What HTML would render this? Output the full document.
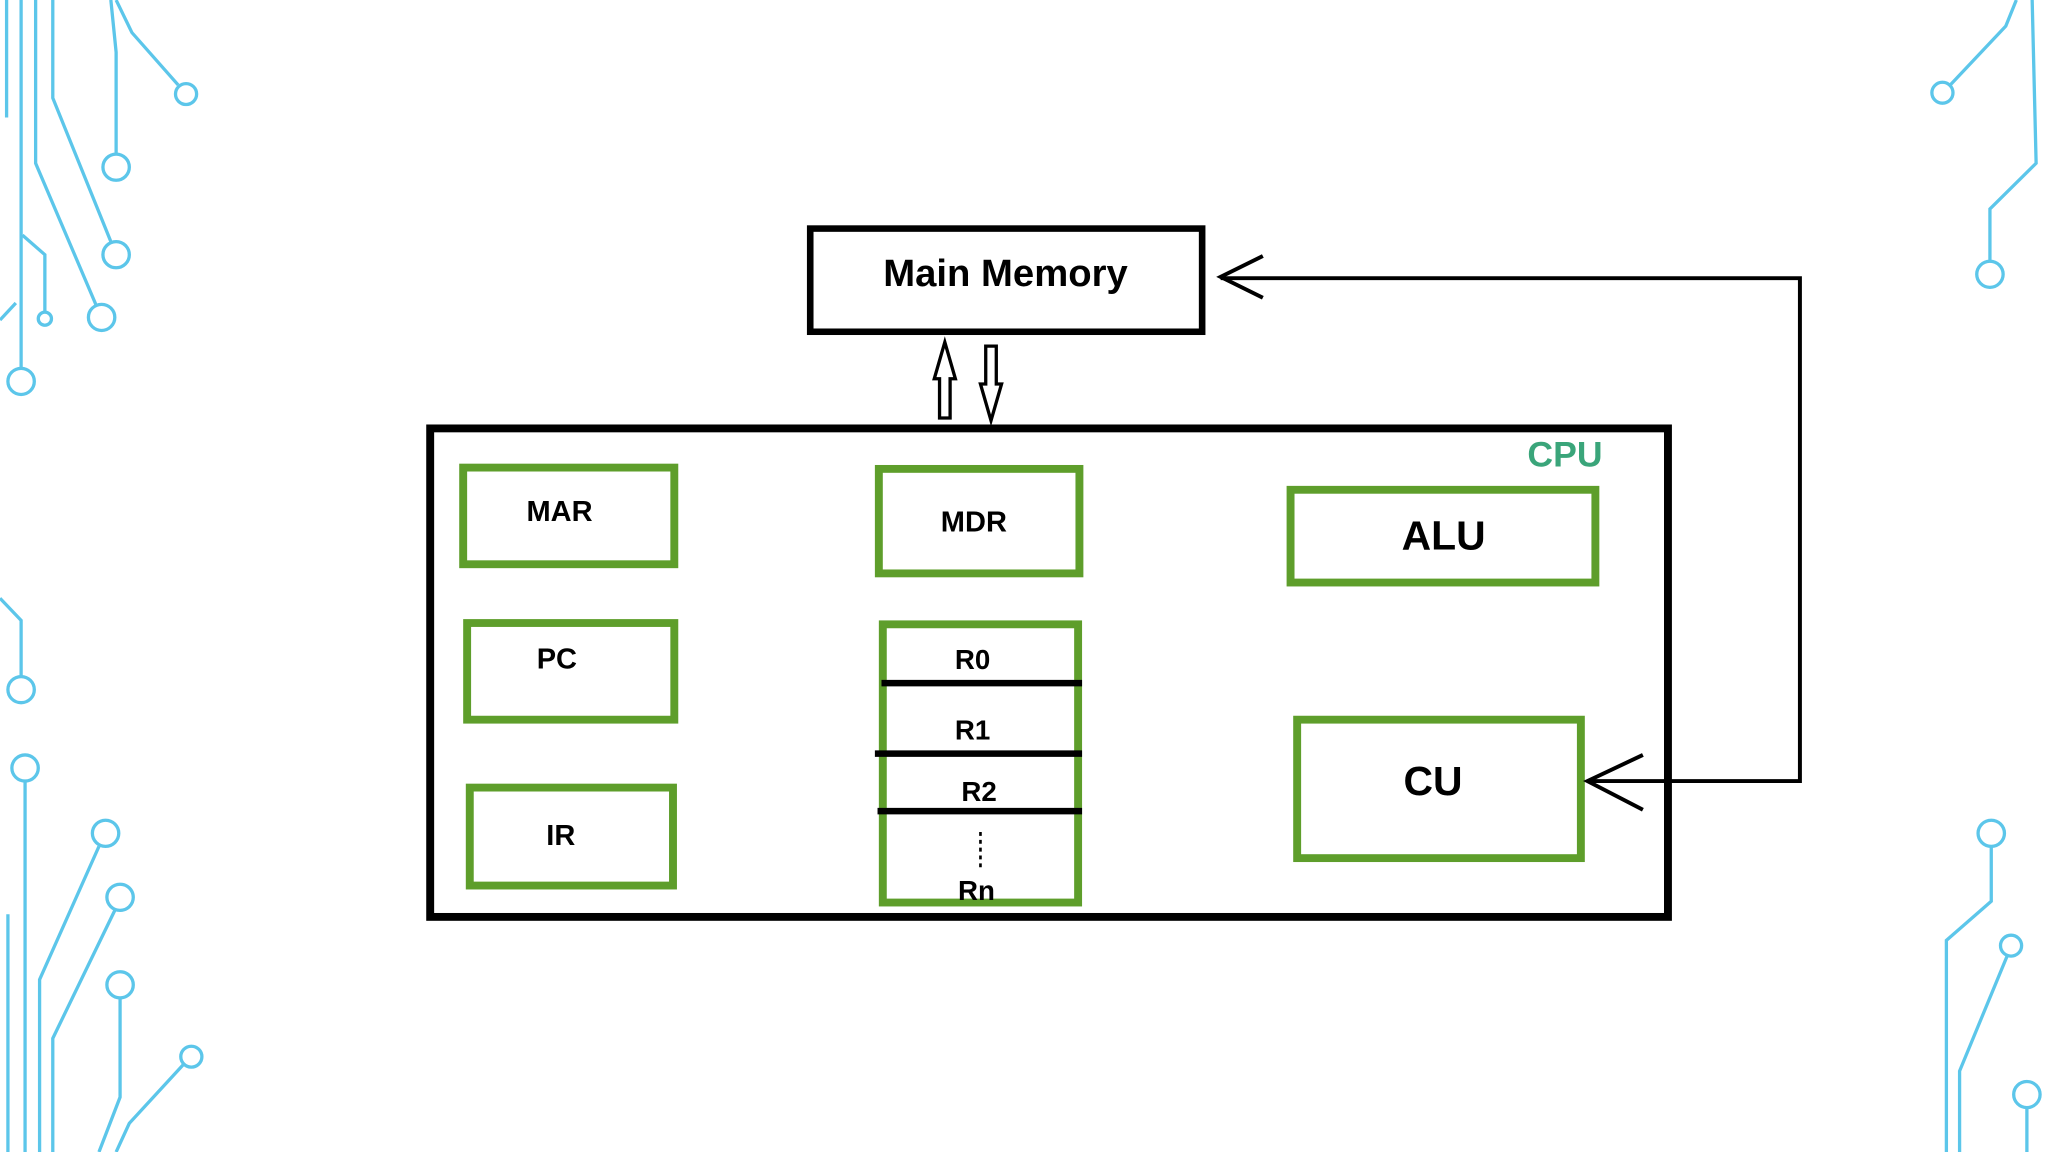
<!DOCTYPE html>
<html><head><meta charset="utf-8"><style>
html,body{margin:0;padding:0;background:#fff;width:2048px;height:1152px;overflow:hidden}
svg{display:block}
text{font-family:"Liberation Sans",sans-serif;font-weight:bold;text-anchor:middle;dominant-baseline:central}
</style></head><body>
<svg width="2048" height="1152" viewBox="0 0 1552 882" preserveAspectRatio="none" xmlns="http://www.w3.org/2000/svg">
<g fill="none" stroke="#5cc6ea" stroke-width="2.5">
<path d="M16,0V282"/><circle cx="16" cy="292" r="10"/>
<path d="M27,0V125L73,234"/><circle cx="77" cy="243" r="10"/>
<path d="M40,0V75L84,185"/><circle cx="88" cy="195" r="10"/>
<path d="M84,0L88,40V118"/><circle cx="88" cy="128" r="10"/>
<path d="M88,0L100,25L135,65"/><circle cx="141" cy="72" r="8"/>
<path d="M17,180L34,195V238"/><circle cx="34" cy="244" r="5"/>
<path d="M0,245L12,232"/><path d="M5,0V90"/>
<path d="M0,458L16,475V518"/><circle cx="16" cy="528" r="10"/>
<path d="M19,598V882"/><circle cx="19" cy="588" r="10"/>
<path d="M6,700V882"/>
<path d="M30,882V750L75,648"/><circle cx="80" cy="638" r="10"/>
<path d="M40,882V795L87,697"/><circle cx="91" cy="687" r="10"/>
<path d="M91,764V840L75,882"/><circle cx="91" cy="754" r="10"/>
<path d="M88,882L98,860L139,815"/><circle cx="145" cy="809" r="8"/>
<path d="M1528,0L1520,20L1478,65"/><circle cx="1472" cy="71" r="8"/>
<path d="M1540,0L1543,125L1508,160V200"/><circle cx="1508" cy="210" r="10"/>
<path d="M1509,648V690L1475,720V882"/><circle cx="1509" cy="638" r="10"/>
<path d="M1521,732L1485,820V882"/><circle cx="1524" cy="724" r="8"/>
<path d="M1536,848V882"/><circle cx="1536" cy="838" r="10"/>
</g>
<rect x="614" y="175" width="297" height="79" fill="none" stroke="#000" stroke-width="5"/>
<text x="762" y="210" font-size="29">Main Memory</text>
<path d="M712,320V290H708L716,262L724,290H720V320Z" fill="#fff" stroke="#000" stroke-width="2.5"/>
<path d="M747,265V294H743L751,322L759,294H755V265Z" fill="#fff" stroke="#000" stroke-width="2.5"/>
<rect x="326" y="328" width="938" height="374" fill="none" stroke="#000" stroke-width="6"/>
<text x="1186" y="348" font-size="27" fill="#3aa57a" font-weight="normal">CPU</text>
<g fill="none" stroke="#5e9e2b" stroke-width="6">
<rect x="351" y="358" width="160" height="74"/>
<rect x="354" y="477" width="157" height="74"/>
<rect x="356" y="603" width="154" height="75"/>
<rect x="666" y="359" width="152" height="80"/>
<rect x="669" y="478" width="148" height="213"/>
<rect x="978" y="375" width="231" height="71"/>
<rect x="983" y="551" width="215" height="106"/>
</g>
<g stroke="#000" stroke-width="5">
<path d="M668,523H820M663,577H820M665,621H820"/>
</g>
<path d="M743,637V666" stroke="#000" stroke-width="2" stroke-dasharray="3,3"/>
<text x="424" y="392" font-size="22">MAR</text>
<text x="422" y="505" font-size="22">PC</text>
<text x="425" y="640" font-size="22">IR</text>
<text x="738" y="400" font-size="22">MDR</text>
<text x="737" y="505" font-size="21">R0</text>
<text x="737" y="559" font-size="21">R1</text>
<text x="742" y="606" font-size="21">R2</text>
<text x="740" y="682" font-size="21">Rn</text>
<text x="1094" y="410" font-size="31">ALU</text>
<text x="1086" y="598" font-size="31">CU</text>
<g fill="none" stroke="#000" stroke-width="3">
<path d="M1203,598H1364V213H925"/>
<path d="M1245,578L1203,598L1245,620"/>
<path d="M957,196L925,212L957,228"/>
</g>
</svg>
</body></html>
